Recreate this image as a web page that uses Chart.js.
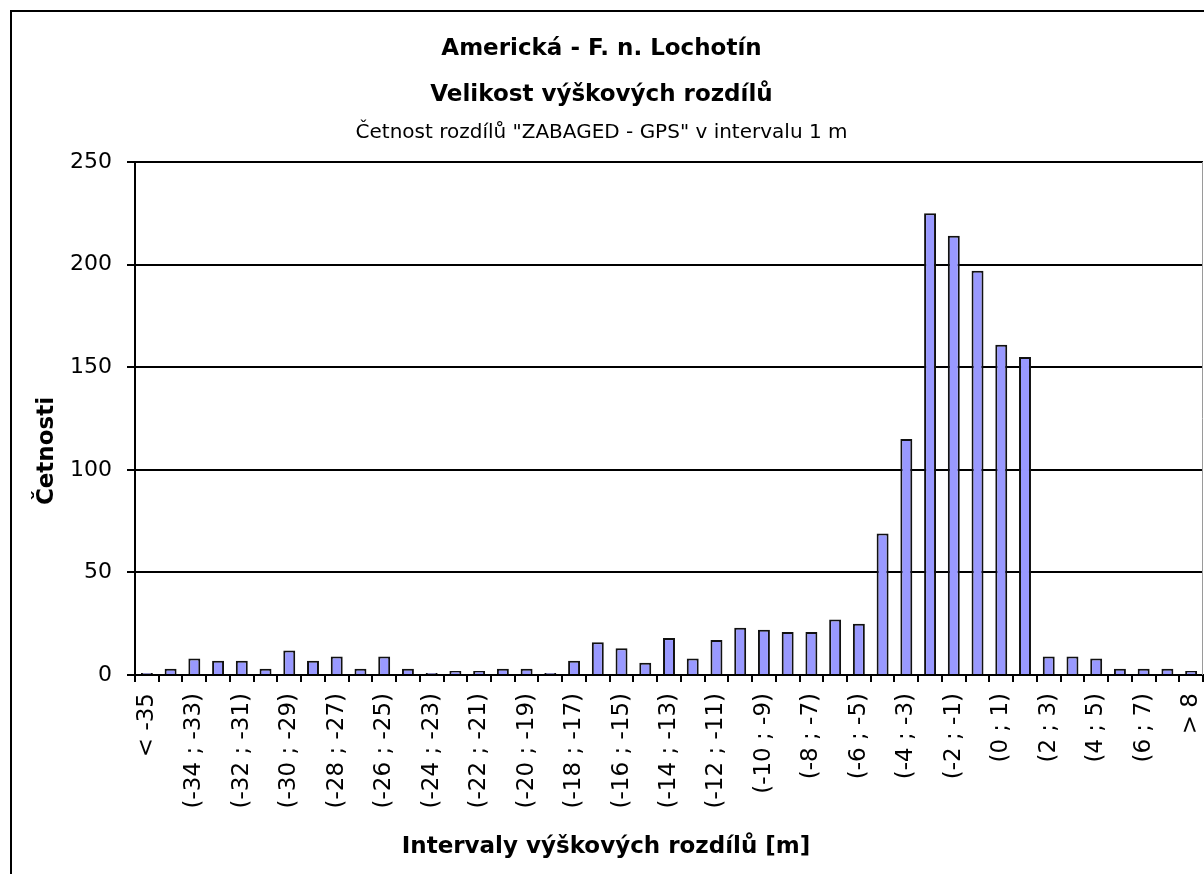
<!DOCTYPE html>
<html>
<head>
<meta charset="utf-8">
<script src="https://cdn.jsdelivr.net/npm/chart.js@4.4.1/dist/chart.umd.min.js"></script>
<style>
  html, body { margin: 0; padding: 0; background: #ffffff; }
  #wrap { width: 1204px; height: 874px; position: relative; }
</style>
</head>
<body>
<div id="wrap"><canvas id="c" width="1204" height="874"></canvas></div>
<script>
const titleLines = ['Americká - F. n. Lochotín', 'Velikost výškových rozdílů'];
const subtitleText = 'Četnost rozdílů "ZABAGED - GPS" v intervalu 1 m';
const xAxisTitle = 'Intervaly výškových rozdílů [m]';
const yAxisTitle = 'Četnosti';

const categories = [
  '< -35',
  '(-35 ; -34)', '(-34 ; -33)', '(-33 ; -32)', '(-32 ; -31)', '(-31 ; -30)',
  '(-30 ; -29)', '(-29 ; -28)', '(-28 ; -27)', '(-27 ; -26)', '(-26 ; -25)',
  '(-25 ; -24)', '(-24 ; -23)', '(-23 ; -22)', '(-22 ; -21)', '(-21 ; -20)',
  '(-20 ; -19)', '(-19 ; -18)', '(-18 ; -17)', '(-17 ; -16)', '(-16 ; -15)',
  '(-15 ; -14)', '(-14 ; -13)', '(-13 ; -12)', '(-12 ; -11)', '(-11 ; -10)',
  '(-10 ; -9)', '(-9 ; -8)', '(-8 ; -7)', '(-7 ; -6)', '(-6 ; -5)',
  '(-5 ; -4)', '(-4 ; -3)', '(-3 ; -2)', '(-2 ; -1)', '(-1 ; 0)',
  '(0 ; 1)', '(1 ; 2)', '(2 ; 3)', '(3 ; 4)', '(4 ; 5)',
  '(5 ; 6)', '(6 ; 7)', '(7 ; 8)',
  '> 8'
];

const counts = [
  1,
  3, 8, 7, 7, 3,
  12, 7, 9, 3, 9,
  3, 1, 2, 2, 3,
  3, 1, 7, 16, 13,
  6, 18, 8, 17, 23,
  22, 21, 21, 27, 25,
  69, 115, 225, 214, 197,
  161, 155, 9, 9, 8,
  3, 3, 3,
  2
];

const yTicks = [0, 50, 100, 150, 200, 250];
const labelEvery = 2;

const FONT = 'DejaVu Sans';

const framePlugin = {
  id: 'frame',
  beforeDraw(chart) {
    const ctx = chart.ctx;
    ctx.save();
    ctx.fillStyle = '#ffffff';
    ctx.fillRect(0, 0, chart.width, chart.height);
    ctx.strokeStyle = '#000000';
    ctx.lineWidth = 2;
    ctx.beginPath();
    ctx.moveTo(11, chart.height + 5);
    ctx.lineTo(11, 11);
    ctx.lineTo(chart.width + 5, 11);
    ctx.stroke();
    ctx.restore();
  },
  afterDraw(chart) {
    const ctx = chart.ctx;
    const a = chart.chartArea;
    ctx.save();
    ctx.strokeStyle = '#9a9a9a';
    ctx.lineWidth = 1;
    ctx.beginPath();
    ctx.moveTo(a.right - 0.5, a.top);
    ctx.lineTo(a.right - 0.5, a.bottom);
    ctx.stroke();
    ctx.fillStyle = '#000000';
    ctx.font = 'bold 23px "' + FONT + '"';
    ctx.textAlign = 'center';
    ctx.textBaseline = 'middle';
    ctx.fillText(xAxisTitle, 606, 847);
    ctx.translate(47, 451);
    ctx.rotate(-Math.PI / 2);
    ctx.fillText(yAxisTitle, 0, 0);
    ctx.restore();
  }
};

new Chart(document.getElementById('c'), {
  type: 'bar',
  data: {
    labels: categories,
    datasets: [{
      data: counts,
      backgroundColor: '#9999ff',
      borderColor: '#111111',
      borderWidth: 2,
      barPercentage: 0.95,
      categoryPercentage: 0.53
    }]
  },
  options: {
    responsive: false,
    animation: false,
    devicePixelRatio: 1,
    layout: { padding: { left: 0, right: 1, top: 0, bottom: 0 } },
    plugins: {
      legend: { display: false },
      tooltip: { enabled: false },
      title: {
        display: true,
        text: titleLines,
        color: '#000000',
        font: { family: FONT, size: 23, weight: 'bold', lineHeight: 2.0 },
        padding: { top: 26, bottom: 0 }
      },
      subtitle: {
        display: true,
        text: subtitleText,
        color: '#000000',
        font: { family: FONT, size: 20, weight: 'normal', lineHeight: 1.2 },
        padding: { top: 3, bottom: 17 }
      }
    },
    scales: {
      x: {
        offset: true,
        grid: {
          display: true,
          offset: true,
          drawOnChartArea: false,
          drawTicks: true,
          tickLength: 7,
          color: '#000000',
          lineWidth: 2
        },
        border: { display: true, color: '#000000', width: 2 },
        ticks: {
          autoSkip: false,
          minRotation: 90,
          maxRotation: 90,
          padding: 11,
          color: '#000000',
          font: { family: FONT, size: 23 },
          callback: function (value, index) {
            return index % labelEvery === 0 ? categories[index] : '';
          }
        },
        afterFit(scale) {
          scale.height = 874 - 675;
          scale.paddingLeft = 0;
          scale.paddingRight = 0;
        }
      },
      y: {
        min: 0,
        max: 250,
        afterBuildTicks(scale) { scale.ticks = yTicks.map(v => ({ value: v })); },
        grid: {
          color: '#000000',
          lineWidth: 2,
          tickLength: 8,
          drawTicks: true
        },
        border: { display: true, color: '#000000', width: 2 },
        ticks: {
          padding: 15,
          color: '#000000',
          font: { family: FONT, size: 22 }
        },
        afterFit(scale) { scale.width = 135; }
      }
    }
  },
  plugins: [framePlugin]
});
</script>
</body>
</html>
